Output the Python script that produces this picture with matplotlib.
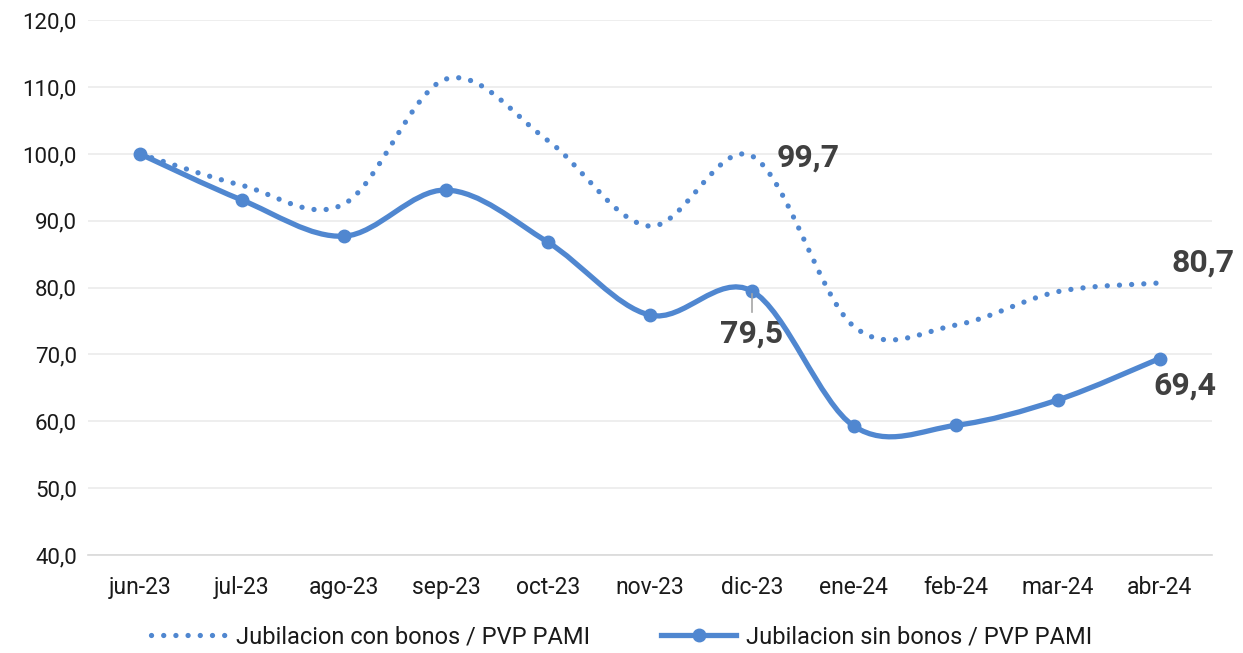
import matplotlib.pyplot as plt
from matplotlib.path import Path
from matplotlib.patches import PathPatch
from matplotlib.lines import Line2D
import numpy as np

plt.rcParams['font.family'] = ['Roboto', 'DejaVu Sans']

meses = ['jun-23', 'jul-23', 'ago-23', 'sep-23', 'oct-23', 'nov-23',
         'dic-23', 'ene-24', 'feb-24', 'mar-24', 'abr-24']
con_bonos = [100.0, 95.3, 92.5, 111.2, 102.0, 89.2, 99.7, 74.2, 74.4, 79.4, 80.7]
sin_bonos = [100.0, 93.1, 87.7, 94.6, 86.8, 75.9, 79.5, 59.3, 59.4, 63.2, 69.4]

azul = '#5087D0'


def curva_suave(x, y):
    # bezier tipo excel: puntos de control con (P[i+1]-P[i-1])/6
    pts = np.column_stack([x, y]).astype(float)
    n = len(pts)
    verts = [pts[0]]
    codes = [Path.MOVETO]
    for i in range(n - 1):
        p0 = pts[max(i - 1, 0)]
        p1 = pts[i]
        p2 = pts[i + 1]
        p3 = pts[min(i + 2, n - 1)]
        c1 = p1 + (p2 - p0) / 6
        c2 = p2 - (p3 - p1) / 6
        verts += [c1, c2, p2]
        codes += [Path.CURVE4] * 3
    return Path(verts, codes)


fig = plt.figure(figsize=(12.43, 6.53), dpi=100)
ax = fig.add_axes([0.0708, 0.150, 0.904, 0.819])

x = np.arange(len(meses))

ax.add_patch(PathPatch(curva_suave(x, con_bonos), fill=False, edgecolor=azul,
                       lw=3.8, linestyle=(0, (0.01, 2.3)), capstyle='round', zorder=3))
ax.add_patch(PathPatch(curva_suave(x, sin_bonos), fill=False, edgecolor=azul,
                       lw=3.8, capstyle='round', zorder=4))
ax.plot(x, sin_bonos, 'o', color=azul, markersize=9, zorder=5)

ax.set_xlim(-0.51, len(meses) - 1 + 0.51)
ax.set_ylim(40, 120)
ax.set_yticks(np.arange(40, 121, 10))
ax.set_yticklabels([f'{v:.1f}'.replace('.', ',') for v in np.arange(40, 121, 10)])
ax.set_xticks(x)
ax.set_xticklabels(meses)
ax.tick_params(axis='both', length=0, labelsize=16, colors='#1A1A1A')
ax.tick_params(axis='x', labelsize=16.5, pad=15)
ax.tick_params(axis='y', pad=8)
ax.grid(axis='y', color='#EBEBEB', lw=1.2)
ax.set_axisbelow(True)
for s in ['top', 'right', 'left']:
    ax.spines[s].set_visible(False)
ax.spines['bottom'].set_color('#D9D9D9')
ax.spines['bottom'].set_linewidth(1.2)

etiq = dict(fontsize=23, fontweight='bold', color='#404040')
ax.text(6.24, 99.5, '99,7', ha='left', va='center', **etiq)
ax.text(10.12, 83.8, '80,7', ha='left', va='center', **etiq)
ax.text(10.25, 65.3, '69,4', ha='center', va='center', **etiq)
ax.plot([6, 6], [79.0, 76.3], color='#A6A6A6', lw=1.2, zorder=6)
ax.text(6, 73.2, '79,5', ha='center', va='center', **etiq)

handles = [Line2D([], [], color=azul, lw=3.8, linestyle=(0, (0.01, 2.3)),
                  dash_capstyle='round'),
           Line2D([], [], color=azul, lw=3.8, marker='o', markersize=9)]
fig.legend(handles, ['Jubilacion con bonos / PVP PAMI', 'Jubilacion sin bonos / PVP PAMI'],
           loc='lower center', bbox_to_anchor=(0.5, -0.025), ncol=2, frameon=False,
           fontsize=17, handlelength=3.2, handletextpad=0.4, columnspacing=3.0,
           labelcolor='#1A1A1A')

fig.savefig('out.png', dpi=100)
